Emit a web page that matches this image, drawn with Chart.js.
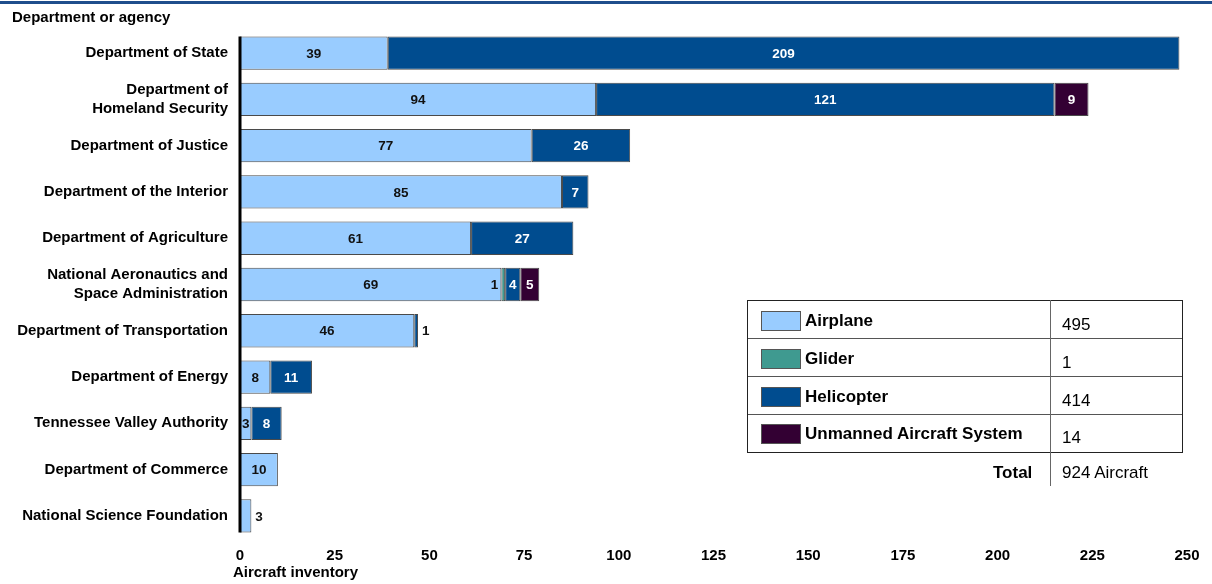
<!DOCTYPE html>
<html>
<head>
<meta charset="utf-8">
<script src="https://cdn.jsdelivr.net/npm/chart.js@4.4.0/dist/chart.umd.min.js"></script>
<style>
  body { margin: 0; background: #fff; font-family: "Liberation Sans", Arial, sans-serif; }
  #wrap { position: relative; width: 1212px; height: 584px; overflow: hidden; }
  #topline { position: absolute; left: 0; top: 1px; width: 1212px; height: 3px; background: #1f4e8c; }
  .txt { position: absolute; font-weight: bold; font-size: 15px; color: #000; white-space: nowrap; }
  #legend { position: absolute; left: 747px; top: 300px; width: 434px; height: 151px; border: 1.5px solid #222; }
  .row { position: absolute; left: 0; width: 434px; border-bottom: 1px solid #555; }
  .sw { position: absolute; left: 13px; width: 38px; height: 18px; border: 1px solid #555; }
  .lname { position: absolute; left: 57px; font-weight: bold; font-size: 17px; white-space: nowrap; }
  .lval { position: absolute; left: 314px; font-size: 17px; }
  #divider { position: absolute; left: 1050px; top: 300px; width: 1px; height: 186px; background: #666; }
</style>
</head>
<body>
<div id="wrap">
  <div id="topline"></div>
  <div class="txt" style="left:12px; top:8px;">Department or agency</div>
  <canvas id="myChart" width="1212" height="584"></canvas>
  <div class="txt" style="left:233px; top:563px;">Aircraft inventory</div>
  <div id="legend"></div>
  <div id="divider"></div>
  <div class="txt" style="left:993px; top:463px; font-size:17px;">Total</div>
  <div id="total" style="position:absolute; left:1062px; top:463px; font-size:17px;"></div>
</div>
<script>
var agencies = [
    "Department of State",
    ["Department of", "Homeland Security"],
    "Department of Justice",
    "Department of the Interior",
    "Department of Agriculture",
    ["National Aeronautics and", "Space Administration"],
    "Department of Transportation",
    "Department of Energy",
    "Tennessee Valley Authority",
    "Department of Commerce",
    "National Science Foundation"
];

var airplane   = [39, 94, 77, 85, 61, 69, 46, 8, 3, 10, 3];
var glider     = [0, 0, 0, 0, 0, 1, 0, 0, 0, 0, 0];
var helicopter = [209, 121, 26, 7, 27, 4, 1, 11, 8, 0, 0];
var unmanned   = [0, 9, 0, 0, 0, 5, 0, 0, 0, 0, 0];

var seriesNames = ["Airplane", "Glider", "Helicopter", "Unmanned Aircraft System"];
var seriesColors = ["#99ccff", "#3f9a90", "#004c8f", "#330033"];
var labelColors = ["#111", "#111", "#fff", "#fff"];

var xTicks = [0, 25, 50, 75, 100, 125, 150, 175, 200, 225, 250];

var allSeries = [airplane, glider, helicopter, unmanned];

// legend table
var legend = document.getElementById("legend");
var grand = 0;
seriesNames.forEach((name, i) => {
    let total = allSeries[i].reduce((a, b) => a + b, 0);
    grand += total;
    let top = i * 37.8;
    let row = document.createElement("div");
    row.className = "row";
    row.style.top = top + "px";
    row.style.height = "37px";
    if (i == 3) row.style.borderBottom = "none";
    row.innerHTML = '<div class="sw" style="top:10px;background:' + seriesColors[i] + '"></div>' +
        '<div class="lname" style="top:10px">' + name + '</div>' +
        '<div class="lval" style="top:14px">' + total + '</div>';
    legend.appendChild(row);
});
document.getElementById("total").textContent = grand + " Aircraft";

var valueLabels = {
    id: "valueLabels",
    afterDatasetsDraw(chart) {
        let ctx = chart.ctx;
        ctx.save();
        ctx.font = "bold 13.5px 'Liberation Sans', Arial, sans-serif";
        ctx.textBaseline = "middle";
        chart.data.datasets.forEach((ds, di) => {
            let meta = chart.getDatasetMeta(di);
            meta.data.forEach((bar, i) => {
                let v = ds.data[i];
                if (!v) return;
                let last = true;
                for (let k = di + 1; k < allSeries.length; k++) if (allSeries[k][i] > 0) last = false;
                let w = Math.abs(bar.x - bar.base);
                let tw = ctx.measureText(String(v)).width;
                let y = bar.y + 1;
                if (w < 14 && last) {
                    ctx.fillStyle = "#111";
                    ctx.textAlign = "left";
                    ctx.fillText(v, bar.x + 4, y);
                } else if (tw + 2 > w) {
                    ctx.fillStyle = "#111";
                    ctx.textAlign = "right";
                    ctx.fillText(v, bar.base - 3, y);
                } else {
                    ctx.fillStyle = labelColors[di];
                    ctx.textAlign = "center";
                    ctx.fillText(v, (bar.x + bar.base) / 2, y);
                }
            });
        });
        // vertical axis line
        let first = chart.getDatasetMeta(0).data[0];
        let lastBar = chart.getDatasetMeta(0).data[agencies.length - 1];
        let x0 = chart.scales.x.getPixelForValue(0);
        ctx.strokeStyle = "#000";
        ctx.lineWidth = 3;
        ctx.beginPath();
        ctx.moveTo(x0, first.y - first.height / 2);
        ctx.lineTo(x0, lastBar.y + lastBar.height / 2);
        ctx.stroke();
        ctx.restore();
    }
};

var chart = new Chart(document.getElementById("myChart"), {
    type: "bar",
    data: {
        labels: agencies,
        datasets: allSeries.map((d, i) => ({
            label: seriesNames[i],
            data: d,
            backgroundColor: seriesColors[i],
            borderColor: "#4a4a4a",
            borderWidth: 1,
            borderSkipped: false,
            barPercentage: 0.9,
            categoryPercentage: 0.8
        }))
    },
    options: {
        indexAxis: "y",
        responsive: false,
        animation: false,
        layout: { padding: { top: 30, right: 25, left: 0, bottom: 0 } },
        plugins: { legend: { display: false }, tooltip: { enabled: false } },
        scales: {
            x: {
                stacked: true,
                min: 0,
                max: 250,
                afterBuildTicks: s => { s.ticks = xTicks.map(v => ({ value: v })); },
                grid: { display: false },
                border: { display: false },
                ticks: {
                    color: "#000",
                    padding: 0,
                    maxRotation: 0,
                    font: { family: "'Liberation Sans', Arial, sans-serif", size: 15, weight: "bold" }
                },
                afterFit: s => { s.height = 45; }
            },
            y: {
                stacked: true,
                grid: { display: false },
                border: { display: false },
                ticks: {
                    color: "#000",
                    padding: 4,
                    font: { family: "'Liberation Sans', Arial, sans-serif", size: 15, weight: "bold", lineHeight: 1.3 }
                },
                afterFit: s => { s.width = 240; }
            }
        }
    },
    plugins: [valueLabels]
});
</script>
</body>
</html>
